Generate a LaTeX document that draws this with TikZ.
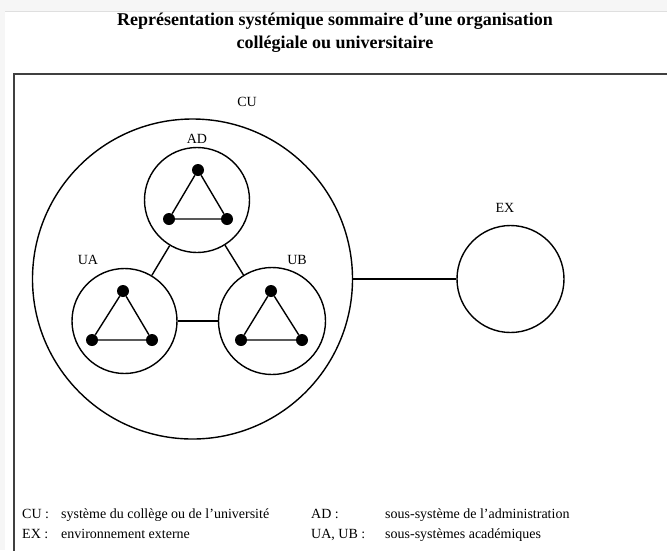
\documentclass[tikz,border=0pt]{standalone}
\usepackage{fontspec}
\setmainfont{Liberation Serif}
\begin{document}
\begin{tikzpicture}[x=1pt,y=-1pt,
  sys/.style={circle,draw,line width=1.4pt,inner sep=0pt},
  dot/.style={circle,fill=black,inner sep=0pt,minimum size=12pt},
  link/.style={line width=1.4pt},
  lbl/.style={font=\fontsize{14}{16}\selectfont,inner sep=0pt},
  leg/.style={font=\fontsize{14}{16}\selectfont,inner sep=0pt,anchor=base west},
  ttl/.style={font=\fontsize{18}{21}\selectfont\bfseries,inner sep=0pt}]
\useasboundingbox (0,0) rectangle (667,550);
\clip (0,0) rectangle (667,550);
\fill[gray!7] (0,0) rectangle (667,550);
\fill[white] (5,11) rectangle (667,550);
\draw[gray!25,line width=0.6pt] (5,11) -- (667,11);
% title
\node[ttl] (t1) at (335,21) {Représentation systémique sommaire d’une organisation};
\node[ttl] (t2) at (335,44) {collégiale ou universitaire};
% frame
\draw[black!75,line width=1.8pt] (14,74) rectangle (720,600);
% systems
\node[sys,minimum size=320pt] (CU) at (192.5,279) {};
\node[sys,minimum size=107pt] (EX) at (510.5,279) {};
\node[sys,minimum size=105pt] (AD) at (197,200) {};
\node[sys,minimum size=105pt] (UA) at (124.5,321) {};
\node[sys,minimum size=107pt] (UB) at (272,321) {};
% labels
\node[lbl] (lCU) at (247,102) {CU};
\node[lbl] (lAD) at (197,139) {AD};
\node[lbl] (lUA) at (88,260) {UA};
\node[lbl] (lUB) at (297,260) {UB};
\node[lbl] (lEX) at (505,208) {EX};
% connectors
\draw[link] (CU) -- (EX);
\draw[link] (AD) -- (UA);
\draw[link] (AD) -- (UB);
\draw[link] (UA) -- (UB);
% triangles
\node[dot] (a1) at (198,170) {};
\node[dot] (a2) at (169,219) {};
\node[dot] (a3) at (227,219) {};
\draw[link] (a1) -- (a2) -- (a3) -- (a1);
\node[dot] (u1) at (123,291) {};
\node[dot] (u2) at (92,340) {};
\node[dot] (u3) at (152,340) {};
\draw[link] (u1) -- (u2) -- (u3) -- (u1);
\node[dot] (b1) at (271,291) {};
\node[dot] (b2) at (241,340) {};
\node[dot] (b3) at (302,340) {};
\draw[link] (b1) -- (b2) -- (b3) -- (b1);
% legend
\node[leg] (k1) at (22,518) {CU :};
\node[leg] (d1) at (61,518) {système du collège ou de l’université};
\node[leg] (k2) at (311,518) {AD :};
\node[leg] (d2) at (385,518) {sous-système de l’administration};
\node[leg] (k3) at (22,538) {EX :};
\node[leg] (d3) at (61,538) {environnement externe};
\node[leg] (k4) at (311,538) {UA, UB :};
\node[leg] (d4) at (385,538) {sous-systèmes académiques};
\end{tikzpicture}
\end{document}
